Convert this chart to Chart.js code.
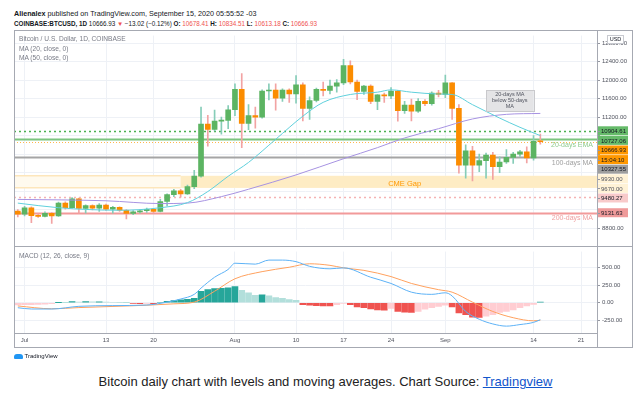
<!DOCTYPE html>
<html>
<head>
<meta charset="utf-8">
<script src="https://cdn.jsdelivr.net/npm/chart.js@4.4.0/dist/chart.umd.min.js"></script>
<style>
  body { margin: 0; background: #fff; font-family: "Liberation Sans", Arial, sans-serif; }
  #wrap { position: relative; width: 644px; height: 399px; overflow: hidden; background: #fff; }
  .abs { position: absolute; white-space: nowrap; }
  .r { color: #ef5350; }
  canvas { position: absolute; }
  .line { position: absolute; background: #a6a9b2; }
</style>
</head>
<body>
<div id="wrap">
  <div class="abs" style="left:14px;top:9px;font-size:7.2px;color:#131722"><b>Alienalex</b> published on TradingView.com, September 15, 2020 05:55:52 -03</div>
  <div class="abs" style="left:14px;top:20px;font-size:6.3px;color:#131722"><b>COINBASE:BTCUSD, 1D</b> 10666.93 <span class="r">&#9660;</span> &minus;13.02 (&minus;0.12%) <b>O:</b> <span class="r">10678.41</span> <b>H:</b> <span class="r">10834.51</span> <b>L:</b> <span class="r">10613.18</span> <b>C:</b> <span class="r">10666.93</span></div>

  <canvas id="main" width="618" height="216" style="left:14px;top:30px"></canvas>
  <canvas id="macd" width="618" height="101" style="left:14px;top:246px"></canvas>

  <div class="abs" style="left:19px;top:34px;font-size:6.6px;color:#787b86;line-height:9.7px">Bitcoin / U.S. Dollar, 1D, COINBASE<br>MA (20, close, 0)<br>MA (50, close, 0)</div>
  <div class="abs" style="left:19px;top:252px;font-size:6.6px;color:#787b86">MACD (12, 26, close, 9)</div>

  <!-- frame -->
  <div class="abs" style="left:14px;top:30px;width:617px;height:316px;border:1px solid #a6a9b2"></div>
  <div class="line" style="left:14px;top:246px;width:619px;height:1px"></div>
  <div class="line" style="left:597px;top:30px;width:1px;height:317px"></div>
  <div class="abs" style="left:607px;top:35px;width:15px;height:7px;border:1px solid #c8cad0;background:#fff;font-size:5.5px;line-height:7px;text-align:center;color:#131722">USD</div>

  <div class="abs" style="left:14px;top:352px;font-size:6px;color:#131722;line-height:9px">
    <span style="display:inline-block;width:9px;height:5px;background:#2196f3;border-radius:3px 3px 1px 1px;vertical-align:middle"></span> TradingView
  </div>
  <div class="abs" style="left:0;top:374px;width:651px;text-align:center;font-size:13px;color:#222">Bitcoin daily chart with levels and moving averages. Chart Source: <span style="color:#1155cc;text-decoration:underline">Tradingview</span></div>
</div>

<script>
// ---------- data ----------
const dates = ['2020-06-30','2020-07-01','2020-07-02','2020-07-03','2020-07-04','2020-07-05','2020-07-06','2020-07-07','2020-07-08','2020-07-09',
  '2020-07-10','2020-07-11','2020-07-12','2020-07-13','2020-07-14','2020-07-15','2020-07-16','2020-07-17','2020-07-18','2020-07-19',
  '2020-07-20','2020-07-21','2020-07-22','2020-07-23','2020-07-24','2020-07-25','2020-07-26','2020-07-27','2020-07-28','2020-07-29',
  '2020-07-30','2020-07-31','2020-08-01','2020-08-02','2020-08-03','2020-08-04','2020-08-05','2020-08-06','2020-08-07','2020-08-08',
  '2020-08-09','2020-08-10','2020-08-11','2020-08-12','2020-08-13','2020-08-14','2020-08-15','2020-08-16','2020-08-17','2020-08-18',
  '2020-08-19','2020-08-20','2020-08-21','2020-08-22','2020-08-23','2020-08-24','2020-08-25','2020-08-26','2020-08-27','2020-08-28',
  '2020-08-29','2020-08-30','2020-08-31','2020-09-01','2020-09-02','2020-09-03','2020-09-04','2020-09-05','2020-09-06','2020-09-07',
  '2020-09-08','2020-09-09','2020-09-10','2020-09-11','2020-09-12','2020-09-13','2020-09-14','2020-09-15'];
const opens = [9169,9101,9238,9075,9050,9121,9060,9340,9240,9430, 9225,9286,9230,9295,9210,9250,9185,9115,9150,9175,
  9205,9160,9375,9525,9605,9540,9695,9925,11050,10935, 11115,11130,11360,11800,11065,11235,11200,11765,11785,11610,
  11785,11700,11900,11390,11560,11800,11780,11870,11940,12315, 11960,11755,11870,11540,11680,11660,11765,11340,11460,11330,
  11540,11490,11720,11690,11940,11390,10160,10470,10160,10260, 10380,10130,10230,10330,10400,10450,10320,10678];
const highs = [9200,9270,9260,9100,9150,9135,9360,9370,9460,9450, 9300,9300,9330,9320,9270,9260,9200,9180,9200,9230,
  9215,9420,9540,9640,9640,9730,10050,11420,11240,11350, 11200,11450,11920,12140,11470,11420,11790,11920,11920,11810,
  11810,12100,11940,11640,11830,11960,12000,12010,12450,12420, 12000,11890,11900,11690,11720,11840,11780,11540,11590,11600,
  11580,11750,11780,12110,11950,11470,10600,10570,10400,10420, 10440,10340,10500,10440,10480,10560,10800,10834];
const lows = [9040,9060,8917,9030,9040,8900,9050,9210,9230,9120, 9120,9190,9160,9180,9120,9160,9000,9090,9120,9140,
  9130,9150,9280,9480,9470,9530,9650,9900,10570,10900, 10830,10950,11230,10540,10930,10960,11180,11570,11350,11540,
  11520,11500,11120,11150,11530,11660,11700,11740,11900,11920, 11580,11690,11490,11360,11520,11600,11110,11280,11120,11300,
  11450,11460,11640,11620,11150,9990,9880,9820,10020,9880, 9850,10000,10200,10200,10350,10210,10270,10613];
const closes = [9101,9238,9067,9050,9121,9060,9340,9240,9430,9225, 9286,9230,9295,9210,9250,9185,9115,9150,9175,9205,
  9160,9375,9525,9605,9540,9695,9925,11050,10935,11115, 11130,11360,11800,11065,11235,11200,11765,11785,11610,11785,
  11700,11900,11390,11560,11800,11780,11870,11940,12315,11960, 11755,11870,11540,11680,11660,11765,11340,11460,11330,11540,
  11490,11720,11690,11940,11390,10160,10470,10160,10260,10380, 10130,10230,10330,10400,10450,10320,10675,10667];

const ma20Dates = ['2020-06-30','2020-07-06','2020-07-15','2020-07-21','2020-07-25','2020-07-28','2020-07-31','2020-08-03','2020-08-07',
  '2020-08-11','2020-08-14','2020-08-18','2020-08-22','2020-08-24','2020-08-27','2020-08-31','2020-09-02','2020-09-05','2020-09-09',
  '2020-09-12','2020-09-15'];
const ma20 = [9340,9240,9185,9240,9350,9590,9920,10220,10720,11220,11520,11690,11740,11790,11740,11700,11690,11470,11180,10980,10800];
const ma50Dates = ['2020-06-30','2020-07-13','2020-07-21','2020-07-25','2020-07-30','2020-08-03','2020-08-10','2020-08-17','2020-08-22',
  '2020-08-26','2020-08-31','2020-09-05','2020-09-10','2020-09-15'];
const ma50 = [9420,9390,9330,9340,9480,9640,9950,10300,10540,10750,10950,11160,11260,11280];

// MACD histogram, one value per candle date
const macdHist = [-30,-28,-26,-24,-20,-14,3,2,18,10, 17,12,15,10,8,6,3,-9,-11,-8,
  -12,8,22,32,40,48,62,160,185,200, 205,212,229,176,141,106,112,97,75,62,
  44,35,-26,-35,-40,-44,-46,-26,-9,-26, -57,-70,-88,-101,-103,-79,-123,-132,-137,-123,
  -92,-70,-53,-35,-57,-145,-167,-202,-206,-189, -167,-137,-123,-101,-70,-44,-22,9];
const macdDates = ['2020-06-30','2020-07-02','2020-07-05','2020-07-09','2020-07-14','2020-07-19','2020-07-22','2020-07-24','2020-07-26',
  '2020-07-27','2020-07-29','2020-07-31','2020-08-01','2020-08-04','2020-08-06','2020-08-08','2020-08-10','2020-08-12','2020-08-15',
  '2020-08-17','2020-08-21','2020-08-24','2020-08-27','2020-08-30','2020-09-01','2020-09-02','2020-09-04','2020-09-06','2020-09-08',
  '2020-09-10','2020-09-12','2020-09-14','2020-09-15'];
const macdLine = [-70,-88,-88,-50,-40,-32,9,53,119,207,361,471,559,546,603,603,581,515,480,493,361,273,150,119,141,97,-123,-233,-299,-330,-308,-277,-240];
const signalDates = ['2020-06-30','2020-07-05','2020-07-09','2020-07-13','2020-07-17','2020-07-20','2020-07-23','2020-07-26','2020-07-29',
  '2020-08-01','2020-08-05','2020-08-09','2020-08-12','2020-08-15','2020-08-17','2020-08-20','2020-08-24','2020-08-27','2020-08-31',
  '2020-09-02','2020-09-05','2020-09-08','2020-09-11','2020-09-14','2020-09-15'];
const signalLine = [-45,-85,-68,-55,-42,-30,-15,9,163,339,440,502,551,529,493,458,370,273,185,150,9,-123,-211,-255,-246];

// horizontal levels and their axis tags
const levelValues = [10904.61, 10727.06, 10666.93, 10327.55, 9480.27, 9131.63];
const gapRange = [9670, 9930];
const gapStart = '2020-07-24';
const priceGrid = [8800, 9200, 9600, 10000, 10400, 10800, 11200, 11600, 12000, 12400, 12800];
const priceTicksShown = [12800, 12400, 12000, 11600, 11200, 8800];
const macdTicks = [500, 250, 0, -250];

const tickDates = ['2020-07-01','2020-07-13','2020-07-20','2020-08-01','2020-08-10','2020-08-17','2020-08-24','2020-09-01','2020-09-14','2020-09-21'];
const tickLabels = ['Jul','13','20','Aug','10','17','24','Sep','14','21'];

// ---------- helpers ----------
const FONT = "'Liberation Sans', Arial, sans-serif";
const dayIndex = s => (Date.parse(s) - Date.parse('2020-07-01')) / 86400000;
const X_MIN = -1.56, X_MAX = 84.35;
const tickDays = tickDates.map(dayIndex);
const pts = (ds, vs) => ds.map((d, i) => ({ x: dayIndex(d), y: vs[i] }));

const GREEN = '#5cb462', ORANGE = '#fb8c00';
const isUp = i => closes[i] >= opens[i];
const bodyColors = dates.map((d, i) => isUp(i) ? GREEN : ORANGE);
const wickColors = dates.map((d, i) => isUp(i) ? '#86cdb8' : '#f2a3a3');

const levelStyles = [
  { color: '#4caf50', w: 1.5, dash: [2, 3] },
  { color: '#7cc47f', w: 2, dash: [] },
  { color: '#ffb74d', w: 1, dash: [1, 2] },
  { color: '#a5a5a5', w: 2, dash: [] },
  { color: '#f5b3b3', w: 1.5, dash: [2, 3] },
  { color: '#f29a9a', w: 2, dash: [] },
];
const tagStyles = [
  { bg: '#66bb6a', fg: '#131722' },
  { bg: '#66bb6a', fg: '#131722' },
  { bg: '#ff9800', fg: '#131722', sub: '15:04:10' },
  { bg: '#9e9e9e', fg: '#131722' },
  { bg: '#f8caca', fg: '#131722' },
  { bg: '#ef9a9a', fg: '#131722' },
];

const levelPlugin = {
  id: 'levels',
  beforeDatasetsDraw(chart) {
    const { ctx, chartArea: a, scales: { x, y } } = chart;
    ctx.save();
    const yt = y.getPixelForValue(gapRange[1]), yb = y.getPixelForValue(gapRange[0]);
    ctx.fillStyle = '#fffaee';
    ctx.fillRect(a.left, yt, a.width, yb - yt);
    const xs = x.getPixelForValue(dayIndex(gapStart));
    ctx.fillStyle = '#feecc4';
    ctx.fillRect(xs, yt, a.right - xs, yb - yt);
    ctx.strokeStyle = '#fde6bb';
    ctx.lineWidth = 1.5;
    [yt, yb].forEach(py => { ctx.beginPath(); ctx.moveTo(a.left, py); ctx.lineTo(xs, py); ctx.stroke(); });
    levelValues.forEach((v, i) => {
      const st = levelStyles[i];
      const py = Math.round(y.getPixelForValue(v)) + 0.5;
      ctx.strokeStyle = st.color;
      ctx.lineWidth = st.w;
      ctx.setLineDash(st.dash);
      ctx.beginPath(); ctx.moveTo(a.left, py); ctx.lineTo(a.right, py); ctx.stroke();
    });
    ctx.restore();
  },
  afterDraw(chart) {
    const { ctx, chartArea: a, scales: { x, y } } = chart;
    ctx.save();
    ctx.textBaseline = 'middle';
    // in-plot labels
    ctx.font = '7px ' + FONT;
    ctx.textAlign = 'right';
    ctx.fillStyle = '#8fcc8f';
    ctx.fillText('20-days EMA', a.right - 4, y.getPixelForValue(levelValues[1]) + 6);
    ctx.fillStyle = '#a0a0a0';
    ctx.fillText('100-days MA', a.right - 4, y.getPixelForValue(levelValues[3]) + 6);
    ctx.fillStyle = '#efa0a0';
    ctx.fillText('200-days MA', a.right - 4, y.getPixelForValue(levelValues[5]) + 5);
    ctx.textAlign = 'center';
    ctx.font = '7.5px ' + FONT;
    ctx.fillStyle = '#ff9800';
    ctx.fillText('CME Gap', x.getPixelForValue(dayIndex('2020-08-26')), (y.getPixelForValue(gapRange[0]) + y.getPixelForValue(gapRange[1])) / 2 + 2);
    // note box
    const bx0 = x.getPixelForValue(dayIndex('2020-09-07')), bx1 = x.getPixelForValue(dayIndex('2020-09-14'));
    const by0 = y.getPixelForValue(11780), by1 = y.getPixelForValue(11320);
    ctx.fillStyle = '#e4e4e6';
    ctx.fillRect(bx0, by0, bx1 - bx0, by1 - by0);
    ctx.strokeStyle = '#c9c9cc'; ctx.lineWidth = 1;
    ctx.strokeRect(Math.round(bx0) + 0.5, Math.round(by0) + 0.5, Math.round(bx1 - bx0), Math.round(by1 - by0));
    ctx.fillStyle = '#50535e';
    ctx.font = '5.5px ' + FONT;
    const cx = (bx0 + bx1) / 2, cy = (by0 + by1) / 2;
    ['20-days MA', 'below 50-days', 'MA'].forEach((t, k) => ctx.fillText(t, cx, cy + (k - 1) * 6));

    // price-axis tags, pushed apart like the original
    const tags = [];
    levelValues.forEach((v, i) => {
      tags.push({ v, text: v.toFixed(2), bg: tagStyles[i].bg, fg: tagStyles[i].fg });
      if (tagStyles[i].sub) tags.push({ v, text: tagStyles[i].sub, bg: tagStyles[i].bg, fg: tagStyles[i].fg, sub: true });
    });
    gapRange.forEach(v => tags.push({ v, text: v.toFixed(2), bg: '#fff2d6', fg: '#50535e' }));
    tags.sort((p, q) => (q.v - p.v) || ((p.sub ? 1 : 0) - (q.sub ? 1 : 0)));
    let prev = -1e9;
    ctx.font = '6px ' + FONT;
    ctx.textAlign = 'left';
    tags.forEach(t => {
      let cyT = y.getPixelForValue(t.v);
      cyT = Math.max(cyT, prev + 9.6);
      prev = cyT;
      ctx.fillStyle = t.bg;
      ctx.fillRect(a.right + 1, cyT - 4.5, 30, 9);
      ctx.strokeStyle = '#9598a1';
      ctx.beginPath(); ctx.moveTo(a.right, Math.round(cyT) + 0.5); ctx.lineTo(a.right + 3, Math.round(cyT) + 0.5); ctx.stroke();
      ctx.fillStyle = t.fg;
      ctx.fillText(t.text, a.right + 4, cyT + 0.5);
    });
    ctx.restore();
  }
};

Chart.defaults.font.family = FONT;

new Chart(document.getElementById('main'), {
  type: 'bar',
  data: {
    datasets: [
      { type: 'line', data: pts(ma20Dates, ma20), borderColor: '#5fd0dc', borderWidth: 1, pointRadius: 0, cubicInterpolationMode: 'monotone', order: 0 },
      { type: 'line', data: pts(ma50Dates, ma50), borderColor: '#a793e2', borderWidth: 1, pointRadius: 0, cubicInterpolationMode: 'monotone', order: 0 },
      { type: 'bar', data: dates.map((d, i) => ({ x: dayIndex(d), y: [opens[i], closes[i]] })), backgroundColor: bodyColors,
        barThickness: 5, grouped: false, minBarLength: 1, order: 1 },
      { type: 'bar', data: dates.map((d, i) => ({ x: dayIndex(d), y: [lows[i], highs[i]] })), backgroundColor: wickColors,
        barThickness: 1, grouped: false, order: 2 },
    ]
  },
  options: {
    responsive: false, animation: false, devicePixelRatio: 1,
    layout: { padding: 0 },
    plugins: { legend: { display: false }, tooltip: { enabled: false } },
    scales: {
      x: {
        type: 'linear', min: X_MIN, max: X_MAX, offset: false,
        grid: { color: '#eef1f6', drawTicks: false, offset: false }, border: { display: false },
        ticks: { display: false },
        afterBuildTicks: s => { s.ticks = tickDays.map(v => ({ value: v })); },
        afterFit: s => { s.height = 0; }
      },
      y: {
        type: 'linear', position: 'right', min: 8533, max: 12964,
        grid: { color: '#eef1f6', tickLength: 3, tickColor: '#9598a1' }, border: { display: false },
        ticks: { autoSkip: false, padding: 2, font: { size: 6 }, color: '#50535e',
          callback: v => priceTicksShown.includes(v) ? v.toFixed(2) : '' },
        afterBuildTicks: s => { s.ticks = priceGrid.map(v => ({ value: v })); },
        afterFit: s => { s.width = 35; }
      }
    }
  },
  plugins: [levelPlugin]
});

// histogram colours follow rising / falling bars
const histColors = macdHist.map((v, i) => {
  const p = i ? macdHist[i - 1] : null;
  if (v >= 0) return (p === null || v >= p) ? '#26a69a' : '#b2dfdb';
  return (p !== null && v <= p) ? '#ef5350' : '#ffcdd2';
});

new Chart(document.getElementById('macd'), {
  type: 'bar',
  data: {
    datasets: [
      { type: 'line', data: pts(macdDates, macdLine), borderColor: '#5db2f6', borderWidth: 1, pointRadius: 0, cubicInterpolationMode: 'monotone', order: 0 },
      { type: 'line', data: pts(signalDates, signalLine), borderColor: '#ffa15e', borderWidth: 1, pointRadius: 0, cubicInterpolationMode: 'monotone', order: 0 },
      { type: 'bar', data: dates.map((d, i) => ({ x: dayIndex(d), y: macdHist[i] })), backgroundColor: histColors,
        barThickness: 6, grouped: false, order: 1 },
    ]
  },
  options: {
    responsive: false, animation: false, devicePixelRatio: 1,
    layout: { padding: 0 },
    plugins: { legend: { display: false }, tooltip: { enabled: false } },
    scales: {
      x: {
        type: 'linear', min: X_MIN, max: X_MAX, offset: false,
        grid: { color: '#eef1f6', drawTicks: false, offset: false }, border: { display: true, color: '#a6a9b2' },
        ticks: { autoSkip: false, maxRotation: 0, padding: 4, font: { size: 6 }, color: '#50535e',
          callback: v => { const k = tickDays.indexOf(v); return k >= 0 ? tickLabels[k] : ''; } },
        afterBuildTicks: s => { s.ticks = tickDays.map(v => ({ value: v })); },
        afterFit: s => { s.height = 14; }
      },
      y: {
        type: 'linear', position: 'right', min: -427, max: 723,
        grid: { color: '#eef1f6', tickLength: 3, tickColor: '#9598a1' }, border: { display: false },
        ticks: { autoSkip: false, padding: 2, font: { size: 6 }, color: '#50535e',
          callback: v => v.toFixed(2) },
        afterBuildTicks: s => { s.ticks = macdTicks.map(v => ({ value: v })); },
        afterFit: s => { s.width = 35; }
      }
    }
  }
});
</script>
</body>
</html>
